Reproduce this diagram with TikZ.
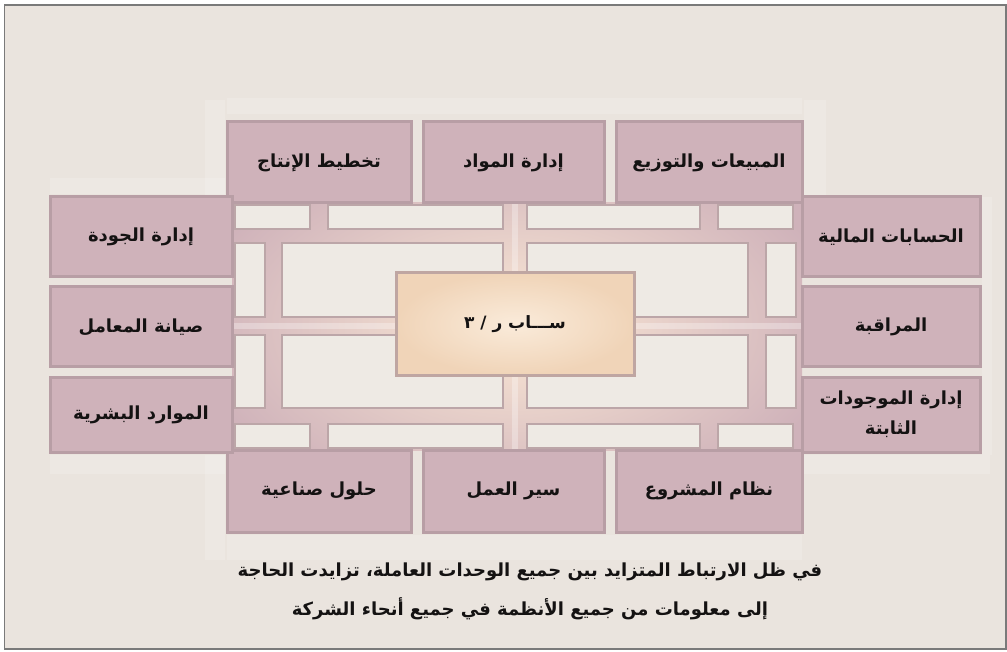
\documentclass[tikz,border=0pt]{standalone}
\usepackage{fontspec}
\newfontfamily\arfont[Script=Arabic]{DejaVu Sans}
\TeXXeTstate=1
\definecolor{bg}{HTML}{EAE4DE}
\definecolor{boxfill}{HTML}{CFB2BA}
\definecolor{boxborder}{HTML}{B89EA5}
\definecolor{panelfill}{HTML}{EEEAE4}
\definecolor{panelborder}{HTML}{BCA6A8}
\definecolor{glowin}{HTML}{FBE9D6}
\definecolor{peachin}{HTML}{FAEBDA}
\definecolor{peachout}{HTML}{F0D4B8}
\definecolor{centerborder}{HTML}{BFA6A2}
\definecolor{txt}{HTML}{141212}
\definecolor{framecol}{HTML}{7A7A7A}
\tikzset{
  mbox/.style={draw=boxborder, fill=boxfill, line width=3pt, inner sep=0pt,
    font=\arfont\bfseries\fontsize{18}{30}\selectfont, text=txt, align=center},
  panel/.style={draw=panelborder, fill=panelfill, line width=2.5pt},
  refl/.style={fill=white, opacity=0.16},
  captxt/.style={font=\arfont\bfseries\fontsize{18}{20}\selectfont, text=txt, inner sep=0pt}
}
\begin{document}
\begin{tikzpicture}[x=1pt,y=-1pt]
\useasboundingbox (0,0) rectangle (1007,652);
\fill[white] (0,0) rectangle (1007,652);
\draw[framecol, fill=bg, line width=1.2pt] (4.5,5) rectangle (1006,649);
% faint reflections
\fill[refl] (227,98) rectangle (802,114);
\fill[refl] (205,100) rectangle (225,197);
\fill[refl] (804,100) rectangle (826,195);
\fill[refl] (50,178) rectangle (225,194);
\fill[refl] (982,197) rectangle (992,455);
\fill[refl] (227,535) rectangle (802,560);
\fill[refl] (205,455) rectangle (225,560);
\fill[refl] (50,455) rectangle (225,474);
\fill[refl] (804,455) rectangle (990,474);
% interior
\fill[boxfill] (232,203) rectangle (802,450);
\begin{scope}
\clip (232,203) rectangle (802,450);
\shade[inner color=glowin, outer color=boxfill] (515,326) ellipse (330 and 190);
\fill[white, opacity=0.3] (512,203) rectangle (518,450);
\fill[white, opacity=0.3] (232,323) rectangle (802,329);
\end{scope}
% panels
\foreach \a/\b in {235/310, 328/503, 527/700, 718/793}{
  \draw[panel] (\a,205) rectangle (\b,229);
  \draw[panel] (\a,424) rectangle (\b,448);
}
\foreach \a/\b in {235/265, 282/503, 527/748, 766/796}{
  \draw[panel] (\a,243) rectangle (\b,317);
  \draw[panel] (\a,335) rectangle (\b,408);
}
% top row
\node[mbox, minimum width=184pt, minimum height=81pt] (t1) at (319,162.5) {\beginR تخطيط الإنتاج\endR};
\node[mbox, minimum width=181pt, minimum height=81pt] (t2) at (513.5,162.5) {\beginR إدارة المواد\endR};
\node[mbox, minimum width=186pt, minimum height=81pt] (t3) at (709,162.5) {\beginR المبيعات والتوزيع\endR};
% bottom row
\node[mbox, minimum width=184pt, minimum height=82pt] (b1) at (319,491) {\beginR حلول صناعية\endR};
\node[mbox, minimum width=181pt, minimum height=82pt] (b2) at (513.5,491) {\beginR سير العمل\endR};
\node[mbox, minimum width=186pt, minimum height=82pt] (b3) at (709,491) {\beginR نظام المشروع\endR};
% left column
\node[mbox, minimum width=182pt, minimum height=80pt] (l1) at (141,237) {\beginR إدارة الجودة\endR};
\node[mbox, minimum width=182pt, minimum height=80pt] (l2) at (141,327) {\beginR صيانة المعامل\endR};
\node[mbox, minimum width=182pt, minimum height=75pt] (l3) at (141,414.5) {\beginR الموارد البشرية\endR};
% right column
\node[mbox, minimum width=178pt, minimum height=80pt] (r1) at (891,237) {\beginR الحسابات المالية\endR};
\node[mbox, minimum width=178pt, minimum height=80pt] (r2) at (891,327) {\beginR المراقبة\endR};
\node[mbox, minimum width=178pt, minimum height=75pt] (r3) at (891,414.5) {\beginR إدارة الموجودات\endR\\\beginR الثابتة\endR};
% center
\shade[inner color=peachin, outer color=peachout] (396,273) rectangle (634,375);
\node[draw=centerborder, line width=3pt, minimum width=238pt, minimum height=102pt, inner sep=0pt,
  font=\arfont\bfseries\fontsize{17}{20}\selectfont, text=txt] (c) at (515,324) {\beginR ســـاب ر / ٣\endR};
% caption
\node[captxt] (cap1) at (530,572) {\beginR في ظل الارتباط المتزايد بين جميع الوحدات العاملة، تزايدت الحاجة\endR};
\node[captxt] (cap2) at (530,609) {\beginR إلى معلومات من جميع الأنظمة في جميع أنحاء الشركة\endR};
\end{tikzpicture}
\end{document}
